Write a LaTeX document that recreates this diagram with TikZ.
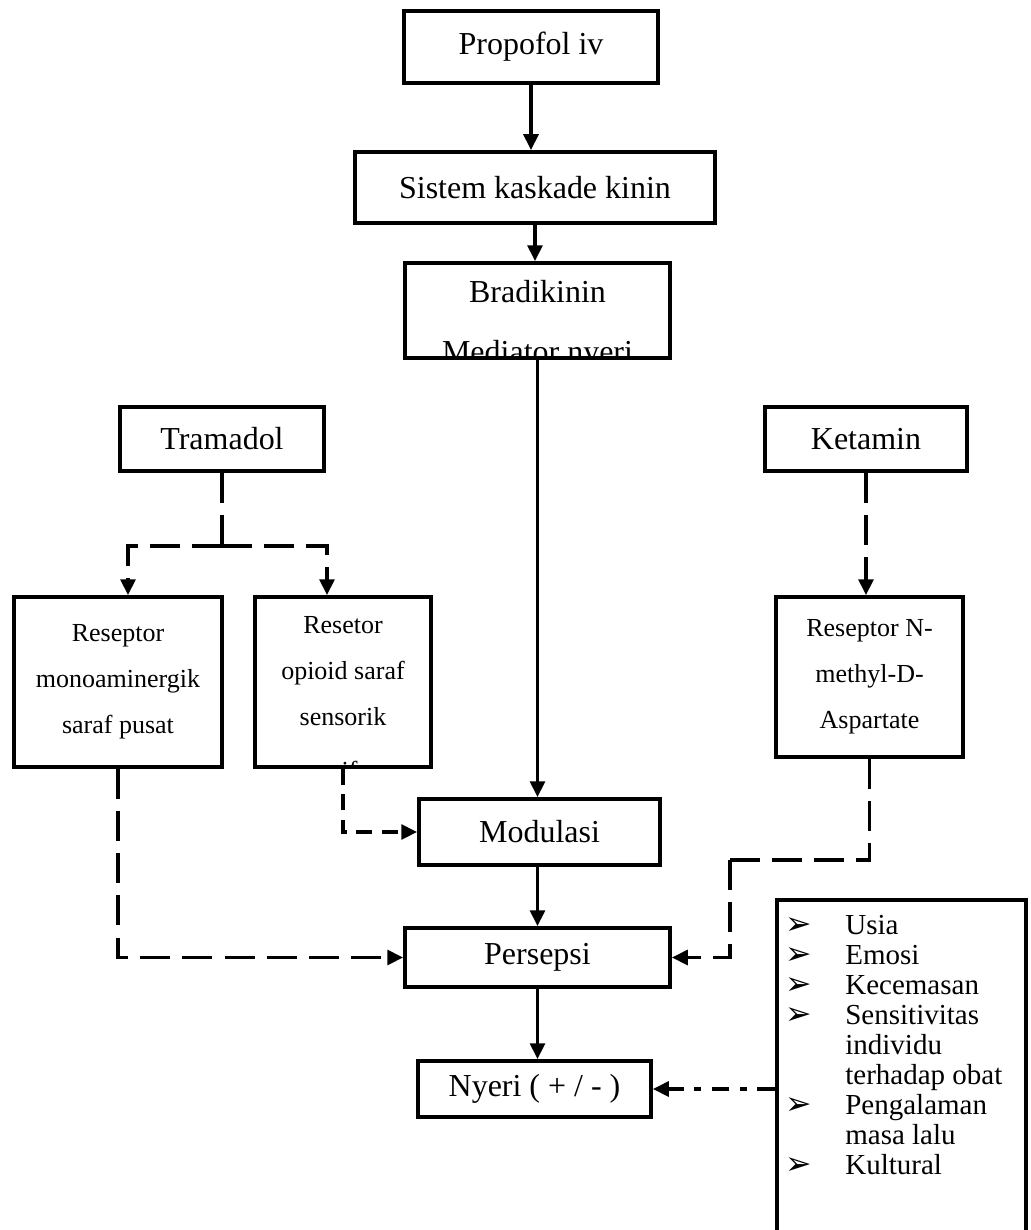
\documentclass[tikz,border=0pt]{standalone}
\usepackage{fontspec}
\setmainfont{Liberation Serif}
\newfontfamily\dejavu{DejaVu Sans}
\usetikzlibrary{positioning,arrows.meta,calc}

\newcommand\arrowbullet{{\dejavu\fontsize{18}{15}\selectfont ➢}}

\begin{document}
\begin{tikzpicture}[
  box/.style = {draw, line width=2.2pt, fill=white, inner sep=0pt,
    font=\fontsize{18.2}{20}\selectfont},
  small box/.style = {box, align=center,
    font=\fontsize{14.8}{26.2}\selectfont},
  box line/.style = {anchor=base, inner sep=0pt},
  link/.style = {line width=1.8pt},
  tip/.style = {-{Triangle[length=9pt,width=8.5pt]}},
  long dash/.style = {link, dash pattern=on 17pt off 7pt},
  short dash/.style = {link, dash pattern=on 9pt off 5.5pt},
  dash dot/.style = {link, dash pattern=on 10pt off 6pt on 4pt off 6pt},
]
  \useasboundingbox (0,0) rectangle (20.6,-24.6);

  % main chain
  \node[box, minimum width=5.08cm, minimum height=1.44cm] (propofol)
    at (10.62,-0.94) {Propofol iv};
  \node[box, minimum width=7.2cm, minimum height=1.42cm] (kaskade)
    at (10.70,-3.75) {Sistem kaskade kinin};
  \node[box, minimum width=5.3cm, minimum height=1.9cm] (bradikinin)
    at (10.75,-6.21) {};
  \begin{scope}
    \clip ([shift={(2.2pt,-2.2pt)}]bradikinin.north west)
      rectangle ([shift={(-2.2pt,2.2pt)}]bradikinin.south east);
    \node[box line, font=\fontsize{18.2}{20}\selectfont] (bradikinin-1)
      at ([yshift=-0.82cm]bradikinin.north) {Bradikinin};
    \node[box line, font=\fontsize{18.2}{20}\selectfont] (bradikinin-2)
      at ([yshift=-2.02cm]bradikinin.north) {Mediator nyeri};
  \end{scope}

  % drugs
  \node[box, minimum width=4.08cm, minimum height=1.28cm] (tramadol)
    at (4.44,-8.78) {Tramadol};
  \node[box, minimum width=4.04cm, minimum height=1.28cm] (ketamin)
    at (17.32,-8.78) {Ketamin};

  % receptors
  \node[small box, minimum width=4.16cm, minimum height=3.4cm] (monoamin)
    at (2.36,-13.64) {Reseptor\\monoaminergik\\saraf pusat};
  \node[small box, minimum width=3.52cm, minimum height=3.4cm] (resetor)
    at (6.86,-13.64) {};
  \begin{scope}
    \clip ([shift={(2.2pt,-2.2pt)}]resetor.north west)
      rectangle ([shift={(-2.2pt,2.2pt)}]resetor.south east);
    \foreach \txt/\dy [count=\i] in {Resetor/0.76, opioid saraf/1.68,
                                     sensorik/2.6, perifer/3.68}
      \node[box line, font=\fontsize{14.8}{16}\selectfont] (resetor-\i)
        at ([yshift=-\dy cm]resetor.north) {\txt};
  \end{scope}
  \node[small box, minimum width=3.74cm, minimum height=3.2cm] (nmda)
    at (17.39,-13.54) {Reseptor N-\\methyl-D-\\Aspartate};

  % lower chain
  \node[box, minimum width=4.82cm, minimum height=1.32cm] (modulasi)
    at (10.79,-16.64) {Modulasi};
  \node[box, minimum width=5.3cm, minimum height=1.18cm] (persepsi)
    at (10.75,-19.15) {Persepsi};
  \node[box, minimum width=4.66cm, minimum height=1.12cm] (nyeri)
    at (10.69,-21.78) {Nyeri ( + / - )};

  % factors
  \node[box, anchor=north west, minimum width=4.98cm, minimum height=7.2cm]
    (faktor) at (15.5,-17.96) {};
  \node[anchor=north west, inner sep=0pt, align=left,
        font=\fontsize{16.5}{17.1}\selectfont]
    (faktor list) at ([xshift=0.2cm,yshift=-0.3cm]faktor.north west)
    {\begin{tabular}{@{}p{1.2cm}@{}l@{}}
      \arrowbullet & Usia\\
      \arrowbullet & Emosi\\
      \arrowbullet & Kecemasan\\
      \arrowbullet & Sensitivitas\\
       & individu\\
       & terhadap obat\\
      \arrowbullet & Pengalaman\\
       & masa lalu\\
      \arrowbullet & Kultural
    \end{tabular}};

  \coordinate (split) at ($(tramadol.south)+(0,-1.46)$);
  \coordinate (bend) at (14.6,-17.2);

  % solid arrows
  \draw[link, tip] (propofol.south) -- (propofol.south |- kaskade.north);
  \draw[link, tip] (kaskade.south) -- (kaskade.south |- bradikinin.north);
  \draw[link, tip] (bradikinin.south) -- (bradikinin.south |- modulasi.north);
  \draw[link, tip] (modulasi.south -| persepsi) -- (persepsi.north);
  \draw[link, tip] (persepsi.south) -- (persepsi.south |- nyeri.north);

  % dashed arrows
  \draw[long dash] (tramadol.south) -- (split);
  \draw[long dash, tip] (split) -| ([xshift=0.2cm]monoamin.north);
  \draw[long dash, tip] (split) -| ([xshift=-0.32cm]resetor.north);
  \draw[long dash, tip] (ketamin.south) -- (ketamin.south |- nmda.north);
  \draw[long dash, tip] (monoamin.south) |- (persepsi.west);
  \draw[short dash, tip] (resetor.south) |- (modulasi.west);
  \draw[long dash] (nmda.south) |- (bend);
  \draw[long dash, tip] (bend) |- (persepsi.east);
  \draw[dash dot, tip] (faktor.west |- nyeri.east) -- (nyeri.east);
\end{tikzpicture}
\end{document}
